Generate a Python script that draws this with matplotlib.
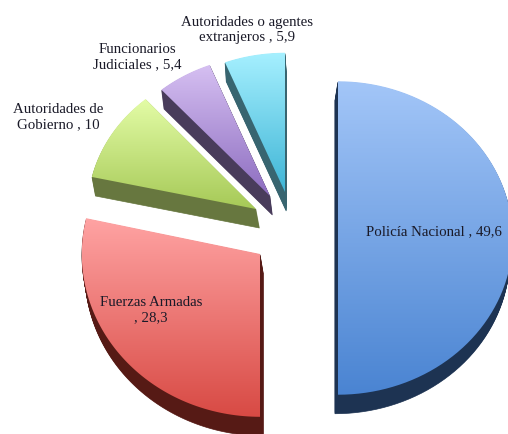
import numpy as np
import matplotlib
matplotlib.use("Agg")
import matplotlib.pyplot as plt
from matplotlib.patches import Polygon
from matplotlib.colors import to_rgb

# Data
names = ["Policía Nacional", "Fuerzas Armadas", "Autoridades de\nGobierno",
         "Funcionarios\nJudiciales", "Autoridades o agentes\nextranjeros"]
values = [49.6, 28.3, 10, 5.4, 5.9]
value_text = ["49,6", "28,3", "10", "5,4", "5,9"]

# Colours: top of face, bottom of face, side (depth)
top_colors = ["#a3c6f8", "#ffa3a3", "#e3fca6", "#d6c0f2", "#a6f0ff"]
bot_colors = ["#4a84d2", "#d84a44", "#a6c957", "#8d6dc0", "#3fb5d6"]
side_colors = ["#1d3352", "#561a15", "#67773f", "#493c5b", "#386570"]

# Layout (pixel space)
W, H = 508, 435
cx, cy = 290, 225
depth = 19
explode_offsets = [(48, 14), (-30, 30), (-34, -15), (-20, -28), (-5, -32)]
start = 0.0
label_pos = [(366, 232, "left"), (151, 310, "center"), (58, 117, "center"),
             (137, 57, "center"), (247, 30, "center")]

fig = plt.figure(figsize=(W / 100, H / 100), dpi=100)
ax = fig.add_axes([0, 0, 1, 1])
ax.set_xlim(0, W)
ax.set_ylim(H, 0)
ax.axis("off")

total = sum(values)
angles = np.cumsum([0] + [v / total * 360 for v in values]) + start


def wedge_pts(x0, y0, a1, a2):
    # perspective: slices lower on the page look a little bigger
    ry = 140 + 0.38 * (y0 - 195)
    rx = 165 + 0.22 * (y0 - 195)
    t = np.radians(np.linspace(a1, a2, 80))
    xs = x0 + rx * np.sin(t)
    ys = y0 - ry * np.cos(t)
    return np.vstack([[x0, y0], np.column_stack([xs, ys])])


slices = []
for i, v in enumerate(values):
    x0 = cx + explode_offsets[i][0]
    y0 = cy + explode_offsets[i][1]
    slices.append((i, x0, y0, angles[i], angles[i + 1]))

# back to front
slices.sort(key=lambda s: s[2])

for i, x0, y0, a1, a2 in slices:
    pts = wedge_pts(x0, y0, a1, a2)
    # depth (side walls)
    ddx = -0.08 * (x0 - 300)
    for k in range(depth, 0, -1):
        shifted = pts + np.array([ddx * k / depth, k])
        ax.add_patch(Polygon(shifted, closed=True, facecolor=side_colors[i],
                             edgecolor=side_colors[i], lw=0.5, zorder=1 + i * 0.01))
    # top face with vertical gradient
    face = Polygon(pts, closed=True, facecolor="none", edgecolor="none", zorder=3)
    ax.add_patch(face)
    c1 = np.array(to_rgb(top_colors[i]))
    c2 = np.array(to_rgb(bot_colors[i]))
    f = np.linspace(0, 1, 200)[:, None]
    grad = (c1 * (1 - f) + c2 * f)[:, None, :]
    y_lo, y_hi = pts[:, 1].min(), pts[:, 1].max()
    x_lo, x_hi = pts[:, 0].min(), pts[:, 0].max()
    im = ax.imshow(grad, extent=(x_lo, x_hi, y_hi, y_lo), origin="upper",
                   aspect="auto", zorder=2 + i * 0.01, interpolation="bilinear")
    im.set_clip_path(face)

ax.set_xlim(0, W)
ax.set_ylim(H, 0)

for i in range(len(values)):
    x, y, ha = label_pos[i]
    if i == 1:
        txt = names[i] + "\n, " + value_text[i]
    else:
        txt = names[i] + " , " + value_text[i]
    ax.text(x, y, txt, ha=ha, va="center", fontsize=10.7, family="Liberation Serif",
            color="#1a1a28", linespacing=1.25, zorder=10)

fig.savefig("out.png", dpi=100)
